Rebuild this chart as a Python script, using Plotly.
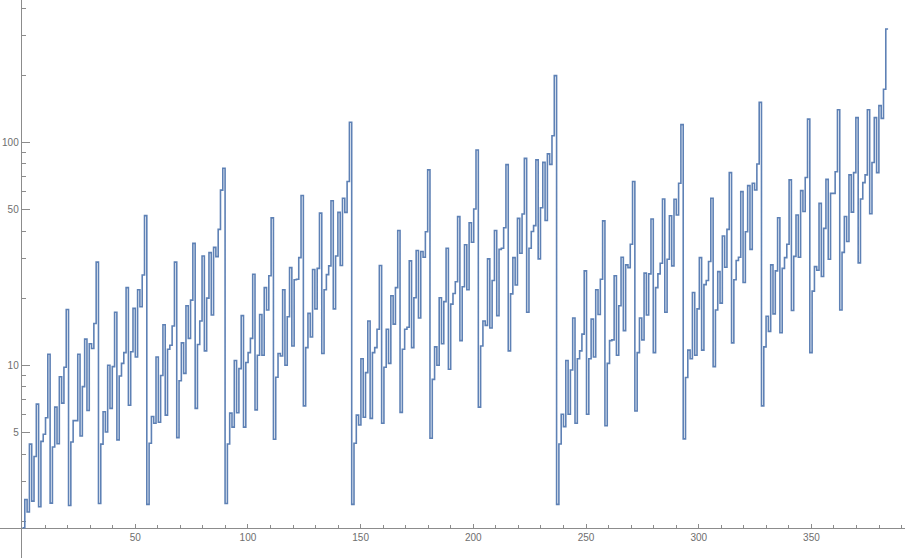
import numpy as np
import plotly.graph_objects as go

# values, grouped by the visible blocks (376 steps)
seg_1_33 = [1.87, 2.50, 2.20, 4.43, 2.46, 3.90, 6.70, 2.32, 4.56, 4.91,
            5.82, 11.2, 2.41, 4.30, 6.49, 4.45, 8.89, 6.77, 9.80, 17.8,
            2.35, 4.53, 5.65, 5.65, 11.2, 4.82, 8.02, 13.1, 6.27, 12.5,
            11.9, 15.4, 29.0]
seg_34_54 = [2.40, 4.43, 6.19, 5.02, 10.0, 6.41, 9.86, 17.3, 4.63, 8.96,
             10.2, 11.4, 22.3, 6.62, 11.5, 18.0, 10.9, 21.8, 18.3, 25.4,
             46.9]
seg_55_88 = [2.38, 4.47, 5.89, 5.50, 10.9, 5.55, 9.0, 15.2, 5.98, 11.8,
             12.3, 15.0, 29.0, 4.74, 8.53, 12.6, 9.2, 18.5, 13.2, 19.6,
             35.2, 6.41, 12.4, 15.8, 30.9, 11.6, 20.0, 32.0, 16.8, 33.8,
             30.7, 40.7, 61.0, 76.5]
seg_89_143 = [2.40, 4.44, 6.10, 5.28, 10.5, 6.13, 9.66, 16.7, 5.28, 10.3,
              11.4, 13.2, 25.6, 6.31, 11.1, 16.9, 11.1, 22.3, 17.7, 25.2,
              45.8, 4.66, 8.84, 11.3, 11.0, 21.8, 10.0, 16.5, 27.4, 12.2,
              24.2, 24.3, 30.4, 57.7, 6.58, 12.0, 17.1, 13.4, 26.9, 17.9,
              27.2, 48.1, 11.3, 21.8, 25.5, 27.9, 54.7, 17.9, 30.9, 48.5,
              28.0, 56.1, 48.5, 66.7, 123]
seg_144_232 = [2.38, 4.47, 5.98, 5.40, 10.7, 5.85, 9.27, 15.8, 5.78, 11.4,
               12.0, 14.5, 28.0, 5.50, 9.80, 14.5, 10.2, 20.5, 15.3, 22.3,
               40.2, 6.15, 11.8, 14.5, 14.8, 29.4, 12.0, 20.1, 32.7, 16.3,
               32.4, 30.5, 39.7, 75.2, 4.71, 8.65, 12.1, 10.0, 20.1, 12.5,
               19.3, 33.5, 9.6, 18.8, 21.0, 23.7, 46.4, 12.9, 22.5, 34.7,
               21.8, 43.6, 35.6, 50.2, 92.4, 6.49, 12.2, 15.8, 15.1, 30.0,
               14.7, 24.0, 40.2, 16.7, 33.1, 33.5, 41.4, 79.4, 11.6, 20.9,
               30.4, 22.9, 45.6, 31.8, 47.7, 84.7, 17.3, 33.5, 39.8, 42.3,
               83.4, 30.0, 50.9, 81.3, 44.6, 88.7, 79.6, 107, 199]
seg_233_376 = [2.38, 4.44, 6.03, 5.31, 10.5, 6.03, 9.53, 16.3, 5.50, 10.7,
               11.6, 13.8, 26.5, 6.03, 10.7, 16.1, 10.9, 21.8, 16.9, 24.3,
               44.4, 5.36, 10.2, 12.9, 13.0, 25.2, 11.1, 18.5, 30.5, 14.3,
               28.2, 27.4, 34.9, 66.7, 6.24, 11.4, 16.3, 13.0, 25.9, 16.8,
               25.7, 45.3, 11.4, 22.3, 25.7, 28.7, 55.7, 17.3, 29.9, 46.8,
               27.9, 55.5, 47.2, 65.5, 120, 4.68, 8.81, 11.7, 10.7, 21.2,
               11.1, 17.9, 30.4, 11.7, 23.0, 24.0, 29.2, 56.1, 9.86, 17.7,
               26.3, 19.0, 38.0, 27.5, 40.7, 73.1, 12.6, 24.2, 29.5, 30.5,
               60.1, 23.5, 39.7, 63.9, 33.1, 65.5, 61.1, 79.9, 151, 6.58,
               12.1, 16.6, 14.2, 28.2, 17.0, 26.5, 45.9, 14.0, 27.2, 30.4,
               34.9, 67.8, 17.6, 30.8, 47.2, 30.5, 60.7, 48.9, 69.5, 127,
               11.4, 21.5, 27.7, 26.7, 53.2, 25.0, 41.1, 68.2, 29.9, 59.0,
               59.0, 73.8, 140, 17.7, 32.1, 46.5, 35.9, 71.4, 48.6, 73.1,
               129, 28.8, 55.7, 65.9, 71.4, 140, 47.8, 81.1, 129, 73.1,
               146, 128, 173, 322]

# x extent covered by the steps on the reference axis
x_data_start = 0
x_data_end = 384

x_major_ticks = [50, 100, 150, 200, 250, 300, 350]
x_minor_ticks = [v for v in range(10, 400, 10) if v % 50]
y_major_ticks = [5, 10, 50, 100]
y_minor_ticks = [2, 3, 4, 6, 7, 8, 9, 20, 30, 40, 60, 70, 80, 90, 200, 300, 400]

values = seg_1_33 + seg_34_54 + seg_55_88 + seg_89_143 + seg_144_232 + seg_233_376
# step edges: each value is a flat step between consecutive edges
x_edges = np.linspace(x_data_start, x_data_end, len(values) + 1)
ys = values + [values[-1]]

AX = '#8c8c8c'
LBL = '#6e6e6e'
FONT = 'Liberation Sans, Arial, sans-serif'

fig = go.Figure(go.Scatter(x=x_edges, y=ys, mode='lines',
                           line=dict(color='#5E81B5', width=1.6, shape='hv'),
                           hoverinfo='skip'))

fig.update_layout(
    width=905, height=558,
    margin=dict(l=0, r=0, t=0, b=0),
    paper_bgcolor='white', plot_bgcolor='white',
    showlegend=False,
    xaxis=dict(
        range=[-9.98, 391.5], anchor='free', position=0.0543,
        showline=True, linecolor=AX, linewidth=1,
        ticks='inside', ticklen=4, tickcolor=AX, tickwidth=1,
        tickmode='array', tickvals=x_major_ticks,
        ticktext=[str(v) for v in x_major_ticks],
        tickfont=dict(family=FONT, size=10, color=LBL),
        showgrid=False, zeroline=False, layer='below traces',
        minor=dict(tickmode='array', tickvals=x_minor_ticks, ticks='inside',
                   ticklen=2.5, tickcolor=AX, tickwidth=1, showgrid=False),
    ),
    yaxis=dict(
        type='log', range=[0.1359, 2.638], anchor='free', position=0.0229,
        showline=True, linecolor=AX, linewidth=1,
        ticks='inside', ticklen=8, tickcolor=AX, tickwidth=1,
        tickmode='array', tickvals=y_major_ticks,
        ticktext=[str(v) for v in y_major_ticks],
        tickfont=dict(family=FONT, size=10, color=LBL),
        showgrid=False, zeroline=False, layer='below traces',
        minor=dict(tickmode='array', tickvals=y_minor_ticks, ticks='inside',
                   ticklen=4, tickcolor=AX, tickwidth=1, showgrid=False),
    ),
)

fig.write_html("out.html",
               config={'displayModeBar': False, 'staticPlot': True},
               post_script="document.body.style.margin='0';document.body.style.overflow='hidden';")
